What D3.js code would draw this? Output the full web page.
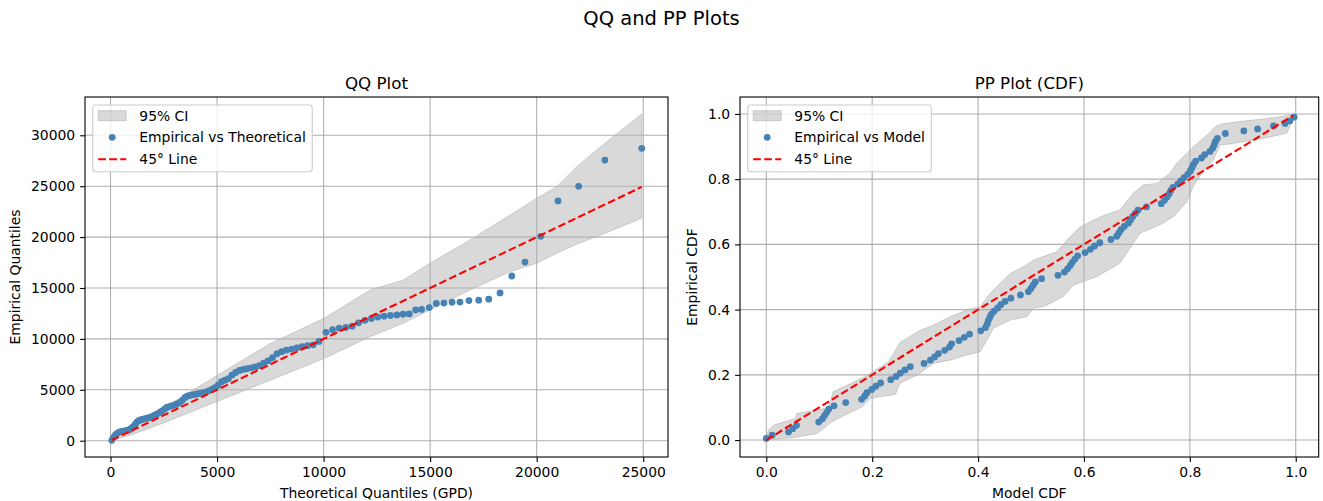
<!DOCTYPE html>
<html>
<head>
<meta charset="utf-8">
<script src="https://cdn.jsdelivr.net/npm/d3@7"></script>
<style>
  body { margin: 0; background: #fff; }
  text { font-family: "DejaVu Sans", sans-serif; fill: #000; }
</style>
</head>
<body>
<script>

// ---- QQ plot data (theoretical GPD quantiles vs sorted empirical values) ----
const qqTheo = [
  60, 145, 232, 319, 407, 496, 587, 678, 770, 863,
  957, 1053, 1149, 1247, 1346, 1446, 1547, 1650, 1753, 1859,
  1965, 2073, 2182, 2293, 2406, 2520, 2635, 2752, 2871, 2992,
  3114, 3239, 3365, 3493, 3623, 3756, 3890, 4027, 4166, 4307,
  4451, 4598, 4747, 4899, 5054, 5212, 5373, 5537, 5704, 5875,
  6050, 6228, 6410, 6597, 6788, 6983, 7183, 7388, 7599, 7815,
  8036, 8265, 8499, 8740, 8989, 9246, 9511, 9784, 10110, 10420,
  10730, 11040, 11340, 11640, 11940, 12240, 12540, 12840, 13140, 13440,
  13730, 14020, 14320, 14600, 14960, 15290, 15650, 16030, 16400, 16820,
  17280, 17750, 18280, 18830, 19450, 20190, 21000, 21970, 23200, 24930
];
const qqEmp = [
  40, 330, 560, 720, 840, 900, 930, 960, 1000, 1060,
  1180, 1350, 1600, 1850, 1990, 2060, 2120, 2180, 2240, 2300,
  2390, 2500, 2620, 2760, 2900, 3080, 3260, 3350, 3420, 3500,
  3600, 3740, 3950, 4250, 4400, 4460, 4520, 4580, 4640, 4700,
  4780, 4900, 5050, 5200, 5450, 5800, 5950, 6100, 6450, 6700,
  6900, 7000, 7080, 7160, 7250, 7380, 7620, 7850, 8150, 8550,
  8750, 8900, 9000, 9120, 9240, 9330, 9420, 9750, 10650, 10900,
  11050, 11120, 11250, 11580, 11820, 12000, 12150, 12230, 12300, 12360,
  12420, 12450, 12840, 12900, 13080, 13480, 13520, 13600, 13620, 13760,
  13800, 13900, 14520, 16180, 17550, 20080, 23550, 24990, 27570, 28720
];
// 95% CI band
const qqBandX    = [60, 1000, 2500, 5000, 7500, 10000, 12180, 13740, 14990, 16870, 18750, 20000, 20940, 21880, 23300, 24930];
const qqBandHigh = [250, 1550, 3250, 6400, 9550, 12000, 14800, 15790, 17430, 19720, 22170, 23810, 24950, 26920, 29400, 32090];
const qqBandLow  = [0, 600, 1750, 3850, 5950, 8050, 10220, 11530, 12840, 14800, 16600, 17430, 18410, 19300, 20450, 21850];
const qqXTicks = [0, 5000, 10000, 15000, 20000, 25000];
const qqYTicks = [0, 5000, 10000, 15000, 20000, 25000, 30000];

// ---- PP plot data (model CDF vs empirical CDF) ----
const ppModel = [
  0.000, 0.011, 0.042, 0.050, 0.057, 0.099, 0.106, 0.110, 0.114, 0.118,
  0.128, 0.150, 0.180, 0.186, 0.190, 0.199, 0.207, 0.216, 0.235, 0.245,
  0.253, 0.262, 0.272, 0.298, 0.310, 0.318, 0.325, 0.337, 0.346, 0.350,
  0.364, 0.374, 0.384, 0.405, 0.414, 0.417, 0.419, 0.422, 0.425, 0.430,
  0.437, 0.443, 0.451, 0.462, 0.480, 0.495, 0.500, 0.504, 0.508, 0.520,
  0.551, 0.563, 0.569, 0.574, 0.578, 0.583, 0.588, 0.602, 0.612, 0.620,
  0.630, 0.651, 0.662, 0.666, 0.670, 0.676, 0.684, 0.688, 0.692, 0.697,
  0.702, 0.718, 0.746, 0.752, 0.757, 0.761, 0.764, 0.768, 0.777, 0.783,
  0.789, 0.796, 0.801, 0.804, 0.807, 0.811, 0.822, 0.828, 0.838, 0.843,
  0.846, 0.848, 0.852, 0.867, 0.902, 0.928, 0.958, 0.980, 0.989, 0.997
];
const ppEmp = [
  0.005, 0.015, 0.025, 0.035, 0.045, 0.055, 0.065, 0.075, 0.085, 0.095,
  0.105, 0.115, 0.125, 0.135, 0.145, 0.155, 0.165, 0.175, 0.185, 0.195,
  0.205, 0.215, 0.225, 0.235, 0.245, 0.255, 0.265, 0.275, 0.285, 0.295,
  0.305, 0.315, 0.325, 0.335, 0.345, 0.355, 0.365, 0.375, 0.385, 0.395,
  0.405, 0.415, 0.425, 0.435, 0.445, 0.455, 0.465, 0.475, 0.485, 0.495,
  0.505, 0.515, 0.525, 0.535, 0.545, 0.555, 0.565, 0.575, 0.585, 0.595,
  0.605, 0.615, 0.625, 0.635, 0.645, 0.655, 0.665, 0.675, 0.685, 0.695,
  0.705, 0.715, 0.725, 0.735, 0.745, 0.755, 0.765, 0.775, 0.785, 0.795,
  0.805, 0.815, 0.825, 0.835, 0.845, 0.855, 0.865, 0.875, 0.885, 0.895,
  0.905, 0.915, 0.925, 0.940, 0.948, 0.954, 0.963, 0.971, 0.979, 0.990
];
// 95% CI band edges
const ppUpperX = [0.000, 0.004, 0.014, 0.055, 0.058, 0.096, 0.118, 0.126, 0.187, 0.231, 0.253, 0.291, 0.316, 0.347, 0.379, 0.404, 0.423, 0.442, 0.461, 0.486, 0.505, 0.549, 0.574, 0.593, 0.631, 0.668, 0.693, 0.712, 0.738, 0.763, 0.775, 0.794, 0.807, 0.832, 0.848, 0.857, 0.889, 0.951, 0.997];
const ppUpperY = [0.012, 0.031, 0.046, 0.066, 0.082, 0.092, 0.100, 0.148, 0.195, 0.240, 0.300, 0.337, 0.353, 0.378, 0.399, 0.409, 0.450, 0.481, 0.511, 0.532, 0.552, 0.578, 0.624, 0.654, 0.685, 0.706, 0.757, 0.782, 0.787, 0.820, 0.849, 0.879, 0.900, 0.935, 0.961, 0.968, 0.976, 0.987, 0.998];
const ppLowerX = [0.000, 0.055, 0.096, 0.124, 0.143, 0.181, 0.196, 0.244, 0.253, 0.284, 0.316, 0.347, 0.379, 0.404, 0.417, 0.429, 0.461, 0.492, 0.505, 0.524, 0.561, 0.580, 0.624, 0.668, 0.693, 0.706, 0.744, 0.769, 0.794, 0.807, 0.826, 0.845, 0.857, 0.876, 0.939, 0.983, 0.997];
const ppLowerY = [0.000, 0.008, 0.020, 0.056, 0.072, 0.102, 0.128, 0.140, 0.175, 0.198, 0.235, 0.245, 0.261, 0.271, 0.307, 0.343, 0.368, 0.378, 0.405, 0.409, 0.440, 0.475, 0.501, 0.542, 0.603, 0.634, 0.660, 0.685, 0.730, 0.780, 0.825, 0.860, 0.905, 0.908, 0.925, 0.941, 0.990];
const ppTicks = [0, 0.2, 0.4, 0.6, 0.8, 1.0];

const w = 1323, h = 501;
const fs = 13.9;

const svg = d3.select("body").append("svg")
    .attr("width", w)
    .attr("height", h);

svg.append("text")
    .attr("x", w / 2).attr("y", 25)
    .attr("text-anchor", "middle")
    .style("font-size", "19.5px")
    .text("QQ and PP Plots");

var drawPanel = function(o) {
    const g = svg.append("g");
    const x = d3.scaleLinear().domain(o.xDomain).range([o.left, o.right]);
    const y = d3.scaleLinear().domain(o.yDomain).range([o.bottom, o.top]);

    // band: upper edge then lower edge back
    const upper = o.upX.map((v, i) => [v, o.upY[i]]);
    const lower = o.loX.map((v, i) => [v, o.loY[i]]).reverse();
    g.append("path")
        .datum(upper.concat(lower))
        .attr("d", function(d) { return d3.line().x(p => x(p[0])).y(p => y(p[1]))(d) + "Z"; })
        .attr("fill", "gray").attr("fill-opacity", 0.3)
        .attr("stroke", "gray").attr("stroke-opacity", 0.3).attr("stroke-width", 1);

    // grid
    g.selectAll(".gx").data(o.xTicks).enter().append("line")
        .attr("x1", d => x(d)).attr("x2", d => x(d))
        .attr("y1", o.top).attr("y2", o.bottom)
        .attr("stroke", "#b0b0b0").attr("stroke-width", 1.1);
    g.selectAll(".gy").data(o.yTicks).enter().append("line")
        .attr("y1", d => y(d)).attr("y2", d => y(d))
        .attr("x1", o.left).attr("x2", o.right)
        .attr("stroke", "#b0b0b0").attr("stroke-width", 1.1);

    // points
    g.selectAll(".pt").data(o.px).enter().append("circle")
        .attr("cx", d => x(d))
        .attr("cy", (d, i) => y(o.py[i]))
        .attr("r", 3.4)
        .attr("fill", "steelblue");

    // 45 degree line
    g.append("line")
        .attr("x1", x(o.diag[0])).attr("y1", y(o.diag[0]))
        .attr("x2", x(o.diag[1])).attr("y2", y(o.diag[1]))
        .attr("stroke", "red").attr("stroke-width", 2.1)
        .attr("stroke-dasharray", "7.7,3.3");

    // frame
    g.append("rect")
        .attr("x", o.left).attr("y", o.top)
        .attr("width", o.right - o.left).attr("height", o.bottom - o.top)
        .attr("fill", "none").attr("stroke", "#000").attr("stroke-width", 1.1);

    const xAxis = g.append("g")
        .attr("transform", "translate(0," + o.bottom + ")")
        .call(d3.axisBottom(x).tickValues(o.xTicks).tickFormat(o.fmt).tickSize(4.9).tickPadding(4.9));
    const yAxis = g.append("g")
        .attr("transform", "translate(" + o.left + ",0)")
        .call(d3.axisLeft(y).tickValues(o.yTicks).tickFormat(o.fmt).tickSize(4.9).tickPadding(4.9));
    [xAxis, yAxis].forEach(a => {
        a.select(".domain").remove();
        a.selectAll("line").attr("stroke-width", 1.1);
        a.selectAll("text").style("font-size", fs + "px").style("font-family", "DejaVu Sans");
    });

    g.append("text")
        .attr("x", (o.left + o.right) / 2).attr("y", o.top - 8.5)
        .attr("text-anchor", "middle").style("font-size", "16.7px")
        .text(o.title);
    g.append("text")
        .attr("x", (o.left + o.right) / 2).attr("y", 498)
        .attr("text-anchor", "middle").style("font-size", fs + "px")
        .text(o.xLabel);
    g.append("text")
        .attr("transform", "translate(" + o.yLabelX + "," + (o.top + o.bottom) / 2 + ") rotate(-90)")
        .attr("text-anchor", "middle").style("font-size", fs + "px")
        .text(o.yLabel);

    // legend
    const lx = o.left + 7.7, ly = o.top + 8;
    const leg = g.append("g");
    const box = leg.append("rect")
        .attr("x", lx).attr("y", ly).attr("rx", 3).attr("height", 66.7)
        .attr("fill", "#fff").attr("fill-opacity", 0.8)
        .attr("stroke", "#cccccc").attr("stroke-width", 1.1);
    const rows = [ly + 10.7, ly + 32.3, ly + 54.3];
    leg.append("rect")
        .attr("x", lx + 5.5).attr("y", rows[0] - 5).attr("width", 28).attr("height", 10)
        .attr("fill", "gray").attr("fill-opacity", 0.3)
        .attr("stroke", "gray").attr("stroke-opacity", 0.3);
    leg.append("circle")
        .attr("cx", lx + 19.5).attr("cy", rows[1]).attr("r", 3.4).attr("fill", "steelblue");
    leg.append("line")
        .attr("x1", lx + 5.5).attr("x2", lx + 33.5).attr("y1", rows[2]).attr("y2", rows[2])
        .attr("stroke", "red").attr("stroke-width", 2.1).attr("stroke-dasharray", "7.7,3.3");
    var maxLen = 0;
    o.legend.forEach((t, i) => {
        const tx = leg.append("text")
            .attr("x", lx + 46.6).attr("y", rows[i]).attr("dy", "0.36em")
            .style("font-size", fs + "px").text(t);
        maxLen = Math.max(maxLen, tx.node().getComputedTextLength());
    });
    box.attr("width", 46.6 + maxLen + 6.5);
};

drawPanel({
    left: 85, right: 668, top: 97, bottom: 457,
    xDomain: [-1197, 26162], yDomain: [-1601, 33762],
    upX: qqBandX, upY: qqBandHigh, loX: qqBandX, loY: qqBandLow,
    px: qqTheo, py: qqEmp,
    diag: [d3.min(qqTheo), d3.max(qqTheo)],
    xTicks: qqXTicks, yTicks: qqYTicks, fmt: d3.format("d"),
    title: "QQ Plot", xLabel: "Theoretical Quantiles (GPD)", yLabel: "Empirical Quantiles", yLabelX: 20,
    legend: ["95% CI", "Empirical vs Theoretical", "45\u00b0 Line"]
});

drawPanel({
    left: 740, right: 1318.7, top: 97, bottom: 457,
    xDomain: [-0.0497, 1.0434], yDomain: [-0.052, 1.052],
    upX: ppUpperX, upY: ppUpperY, loX: ppLowerX, loY: ppLowerY,
    px: ppModel, py: ppEmp,
    diag: [0, 0.995],
    xTicks: ppTicks, yTicks: ppTicks, fmt: d3.format(".1f"),
    title: "PP Plot (CDF)", xLabel: "Model CDF", yLabel: "Empirical CDF", yLabelX: 697,
    legend: ["95% CI", "Empirical vs Model", "45\u00b0 Line"]
});

</script>
</body>
</html>
